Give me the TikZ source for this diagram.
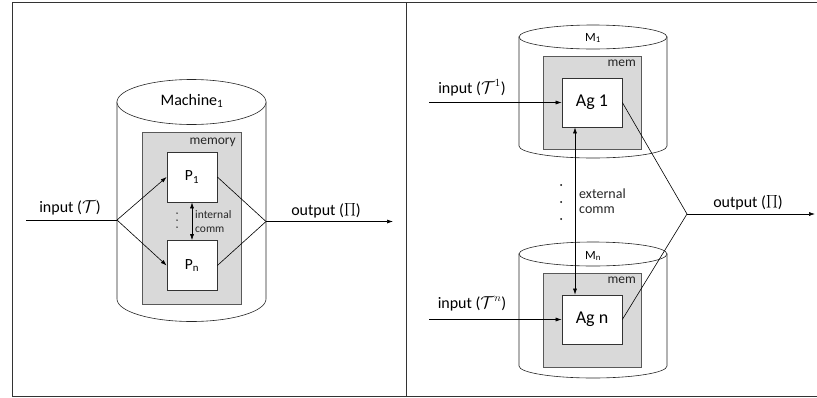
\documentclass[tikz,border=0pt]{standalone}
\usepackage{fontspec}
\setmainfont{Carlito}
\usetikzlibrary{arrows.meta,calc}
\definecolor{memfill}{HTML}{D9D9D9}
\definecolor{memline}{HTML}{595959}
\definecolor{frameline}{HTML}{333333}
\definecolor{txtgray}{HTML}{262626}
\newcommand{\bigprodsym}{\raisebox{-0.5pt}{\scalebox{1.25}{$\prod$}}}
\tikzset{
  frameln/.style={draw=frameline,line width=1pt},
  cyl/.style={draw=black!85,line width=0.6pt,fill=white},
  memrect/.style={draw=memline,line width=1pt,fill=memfill},
  procbox/.style={draw=black!80,line width=0.7pt,fill=white,inner sep=0pt,minimum width=50pt,minimum height=50pt,font=\fontsize{15.5}{18}\selectfont},
  agbox/.style={draw=black!80,line width=0.7pt,fill=white,inner sep=0pt,minimum width=60pt,minimum height=49pt,font=\fontsize{18}{21}\selectfont},
  conn/.style={draw=black,line width=0.6pt},
  arr/.style={conn,-{Latex[length=6pt,width=4pt]}},
  darr/.style={conn,{Latex[length=6pt,width=4pt]}-{Latex[length=6pt,width=4pt]}},
  biglbl/.style={inner sep=0pt,font=\fontsize{16}{19}\selectfont},
  midlbl/.style={inner sep=0pt,font=\fontsize{13.5}{16}\selectfont,text=txtgray},
  smalllbl/.style={inner sep=0pt,font=\fontsize{11.5}{14}\selectfont,text=txtgray},
  dotmark/.style={fill=black,inner sep=0pt,minimum size=2pt,circle}
}
\begin{document}
\begin{tikzpicture}[x=1pt,y=-1pt]
\useasboundingbox (0,0) rectangle (817,397);
% frame
\draw[frameln] (12,2) -- (817,2);
\draw[frameln] (12,396) -- (817,396);
\draw[frameln] (12,2) -- (12,396);
\draw[frameln] (406,2) -- (406,396);

% ---------- left panel ----------
% cylinder
\path[cyl] (117,102) -- (117,299) arc[start angle=180,end angle=360,x radius=74.5pt,y radius=22.5pt] -- (266,102) -- cycle;
\draw[cyl] (191.5,102) ellipse [x radius=74.5pt,y radius=22.5pt];
\node[biglbl,anchor=base] (mach) at (192,105) {Machine\textsubscript{1}};
\path[memrect] (142,132) rectangle (241,304);
\node[midlbl,anchor=base east] (memlbl) at (236,144) {memory};
\node[procbox] (P1) at (192,177) {P\textsubscript{1}};
\node[procbox] (Pn) at (192,265.5) {P\textsubscript{n}};
\node[dotmark,minimum size=1.5pt] (dl1) at (177,213) {};
\node[dotmark,minimum size=1.5pt] (dl2) at (177,220) {};
\node[dotmark,minimum size=1.5pt] (dl3) at (177,227) {};
\draw[darr] (P1.south) -- (Pn.north);
\node[smalllbl,anchor=base west] (intA) at (195,218) {internal};
\node[smalllbl,anchor=base west] (intB) at (195,232) {comm};
% input / output
\coordinate (inLs) at (26,220);
\coordinate (inL) at (117,220);
\draw[conn] (inLs) -- (inL);
\draw[arr] (inL) -- (P1.west);
\draw[arr] (inL) -- (Pn.west);
\node[biglbl,anchor=base] (inLlbl) at (70,212) {input ($\mathcal{T}$)};
\coordinate (outL) at (266,221.5);
\coordinate (outLe) at (393,221.5);
\draw[conn] (P1.east) -- (outL);
\draw[conn] (Pn.east) -- (outL);
\draw[arr] (outL) -- (outLe);
\node[biglbl,anchor=base] (outLlbl) at (326,215) {output (\bigprodsym)};

% ---------- right panel ----------
% cylinder 1
\path[cyl] (519,37) -- (519,146) arc[start angle=180,end angle=360,x radius=74pt,y radius=12pt] -- (667,37) -- cycle;
\draw[cyl] (593,37) ellipse [x radius=74pt,y radius=12pt];
\node[midlbl,text=black,font=\fontsize{12.5}{15}\selectfont,anchor=base] (M1) at (593,41) {M\textsubscript{1}};
\path[memrect] (543,56) rectangle (641,149);
\node[midlbl,anchor=base east] (mem1) at (636,66) {mem};
\node[agbox] (Ag1) at (592,102.5) {Ag 1};
% cylinder 2
\path[cyl] (519,254) -- (519,366) arc[start angle=180,end angle=360,x radius=74pt,y radius=12pt] -- (667,254) -- cycle;
\draw[cyl] (593,254) ellipse [x radius=74pt,y radius=12pt];
\node[midlbl,text=black,font=\fontsize{12.5}{15}\selectfont,anchor=base] (Mn) at (593,259) {M\textsubscript{n}};
\path[memrect] (543,273) rectangle (641,367);
\node[midlbl,anchor=base east] (mem2) at (636,283) {mem};
\node[agbox] (Agn) at (592,319.5) {Ag n};
% external comm
\draw[darr] ([xshift=-17pt]Ag1.south) -- ([xshift=-17pt]Agn.north);
\node[dotmark] (dr1) at (561,185) {};
\node[dotmark] (dr2) at (561,202) {};
\node[dotmark] (dr3) at (561,219) {};
\node[midlbl,font=\fontsize{14}{17}\selectfont,anchor=base west] (extA) at (579,198) {external};
\node[midlbl,font=\fontsize{14}{17}\selectfont,anchor=base west] (extB) at (579,213) {comm};
% inputs
\coordinate (in1s) at (429,102.5);
\coordinate (inns) at (429,319.5);
\draw[arr] (in1s) -- (Ag1.west);
\draw[arr] (inns) -- (Agn.west);
\node[biglbl,anchor=base] (in1lbl) at (472,93) {input ($\mathcal{T}^1$)};
\node[biglbl,anchor=base] (innlbl) at (472,308) {input ($\mathcal{T}^n$)};
% output
\coordinate (outR) at (687,214);
\coordinate (outRe) at (815,214);
\draw[conn] (Ag1.east) -- (outR);
\draw[conn] (Agn.east) -- (outR);
\draw[arr] (outR) -- (outRe);
\node[biglbl,anchor=base] (outRlbl) at (748,207) {output (\bigprodsym)};
\end{tikzpicture}
\end{document}
